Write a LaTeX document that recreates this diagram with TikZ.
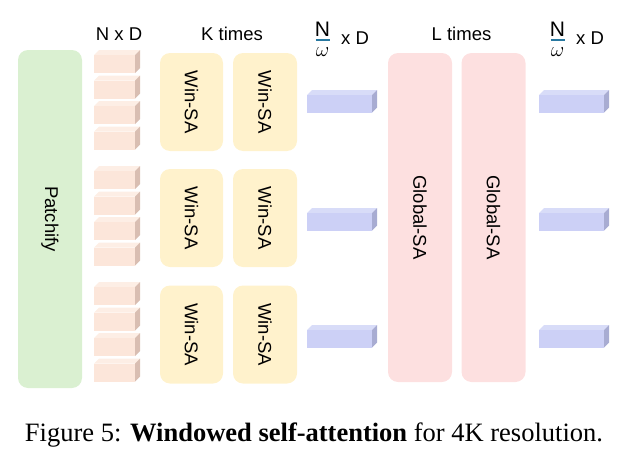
\documentclass[tikz,border=0pt]{standalone}
\usepackage{fontspec}
\setmainfont{Liberation Sans}
\newfontfamily\capfont{Liberation Serif}
\definecolor{gfill}{RGB}{218,240,209}
\definecolor{yfill}{RGB}{255,242,204}
\definecolor{rfill}{RGB}{253,224,224}
\definecolor{pfront}{RGB}{252,230,218}
\definecolor{ptop}{RGB}{253,238,229}
\definecolor{pside}{RGB}{217,190,178}
\definecolor{bfront}{RGB}{204,208,246}
\definecolor{btop}{RGB}{216,220,248}
\definecolor{bside}{RGB}{168,172,210}
\definecolor{fracbar}{RGB}{40,120,160}
\newcommand\pcube[1]{%
  \fill[ptop] (94,#1+5) -- (99,#1) -- (140,#1) -- (135,#1+5) -- cycle;
  \fill[pside] (135,#1+5) -- (140,#1) -- (140,#1+18) -- (135,#1+23) -- cycle;
  \fill[pfront] (94,#1+5) rectangle (135,#1+23);}
\newcommand\bbar[2]{%
  \fill[btop] (#1,#2) -- (#1+5,#2-5) -- (#1+70,#2-5) -- (#1+65,#2) -- cycle;
  \fill[bside] (#1+65,#2) -- (#1+70,#2-5) -- (#1+70,#2+12.5) -- (#1+65,#2+17.5) -- cycle;
  \fill[bfront] (#1,#2) rectangle (#1+65,#2+17.5);}
\begin{document}
\begin{tikzpicture}[x=1pt,y=-1pt,
  sabox/.style={draw=none, rounded corners=10pt, inner sep=0pt},
  lbl/.style={font=\fontsize{18.5}{20}\selectfont, inner sep=0pt},
  vlbl/.style={lbl, rotate=-90},
  flbl/.style={font=\fontsize{21}{22}\selectfont, inner sep=0pt}]
\useasboundingbox (0,0) rectangle (632,463);
% Patchify
\node[sabox, fill=gfill, minimum width=64pt, minimum height=338pt] (patch) at (50,219) {};
\node[vlbl] (patchl) at (patch.center) {Patchify};
% token cubes
\foreach \b in {50,166,282} {
  \foreach \i in {0,...,3} {
    \pgfmathsetmacro\t{\b+\i*25.5}
    \pcube{\t}
  }
}
% Win-SA boxes
\foreach \r/\cy in {1/102,2/218,3/334.5} {
  \node[sabox, fill=yfill, minimum width=63pt, minimum height=98pt] (wa\r) at (191.5,\cy) {};
  \node[vlbl] (wal\r) at (wa\r.center) {Win-SA};
  \node[sabox, fill=yfill, minimum width=64pt, minimum height=98pt] (wb\r) at (265,\cy) {};
  \node[vlbl] (wbl\r) at (wb\r.center) {Win-SA};
}
% window tokens
\bbar{307}{95}
\bbar{307}{213}
\bbar{307}{330}
% Global-SA boxes
\node[sabox, fill=rfill, minimum width=64pt, minimum height=329pt] (ga) at (420,217.5) {};
\node[vlbl] (gal) at (ga.center) {Global-SA};
\node[sabox, fill=rfill, minimum width=64pt, minimum height=329pt] (gb) at (493.5,217.5) {};
\node[vlbl] (gbl) at (gb.center) {Global-SA};
% output tokens
\bbar{539}{95}
\bbar{539}{213}
\bbar{539}{330}
% headers
\node[lbl, anchor=base] (h1) at (119,40) {N x D};
\node[lbl, anchor=base] (h2) at (232,40) {K times};
\node[lbl, anchor=base] (h3) at (461.5,40) {L times};
% fraction headers
\node[flbl, anchor=base] (n1) at (322.5,36.5) {N};
\draw[fracbar, line width=1.5pt] (315.5,40) -- (329.5,40);
\node[flbl, anchor=center] (w1) at (322.5,52) {$\omega$};
\node[lbl, anchor=base west] (x1) at (341,44) {x D};
\node[flbl, anchor=base] (n2) at (557.5,36.5) {N};
\draw[fracbar, line width=1.5pt] (550.5,40) -- (564.5,40);
\node[flbl, anchor=center] (w2) at (557.5,52) {$\omega$};
\node[lbl, anchor=base west] (x2) at (576,44) {x D};
% caption
\node[inner sep=0pt, anchor=base] (cap) at (314,441) {\capfont\fontsize{26.5}{30}\selectfont Figure 5: \textbf{Windowed self-attention} for 4K resolution.};
\end{tikzpicture}
\end{document}
